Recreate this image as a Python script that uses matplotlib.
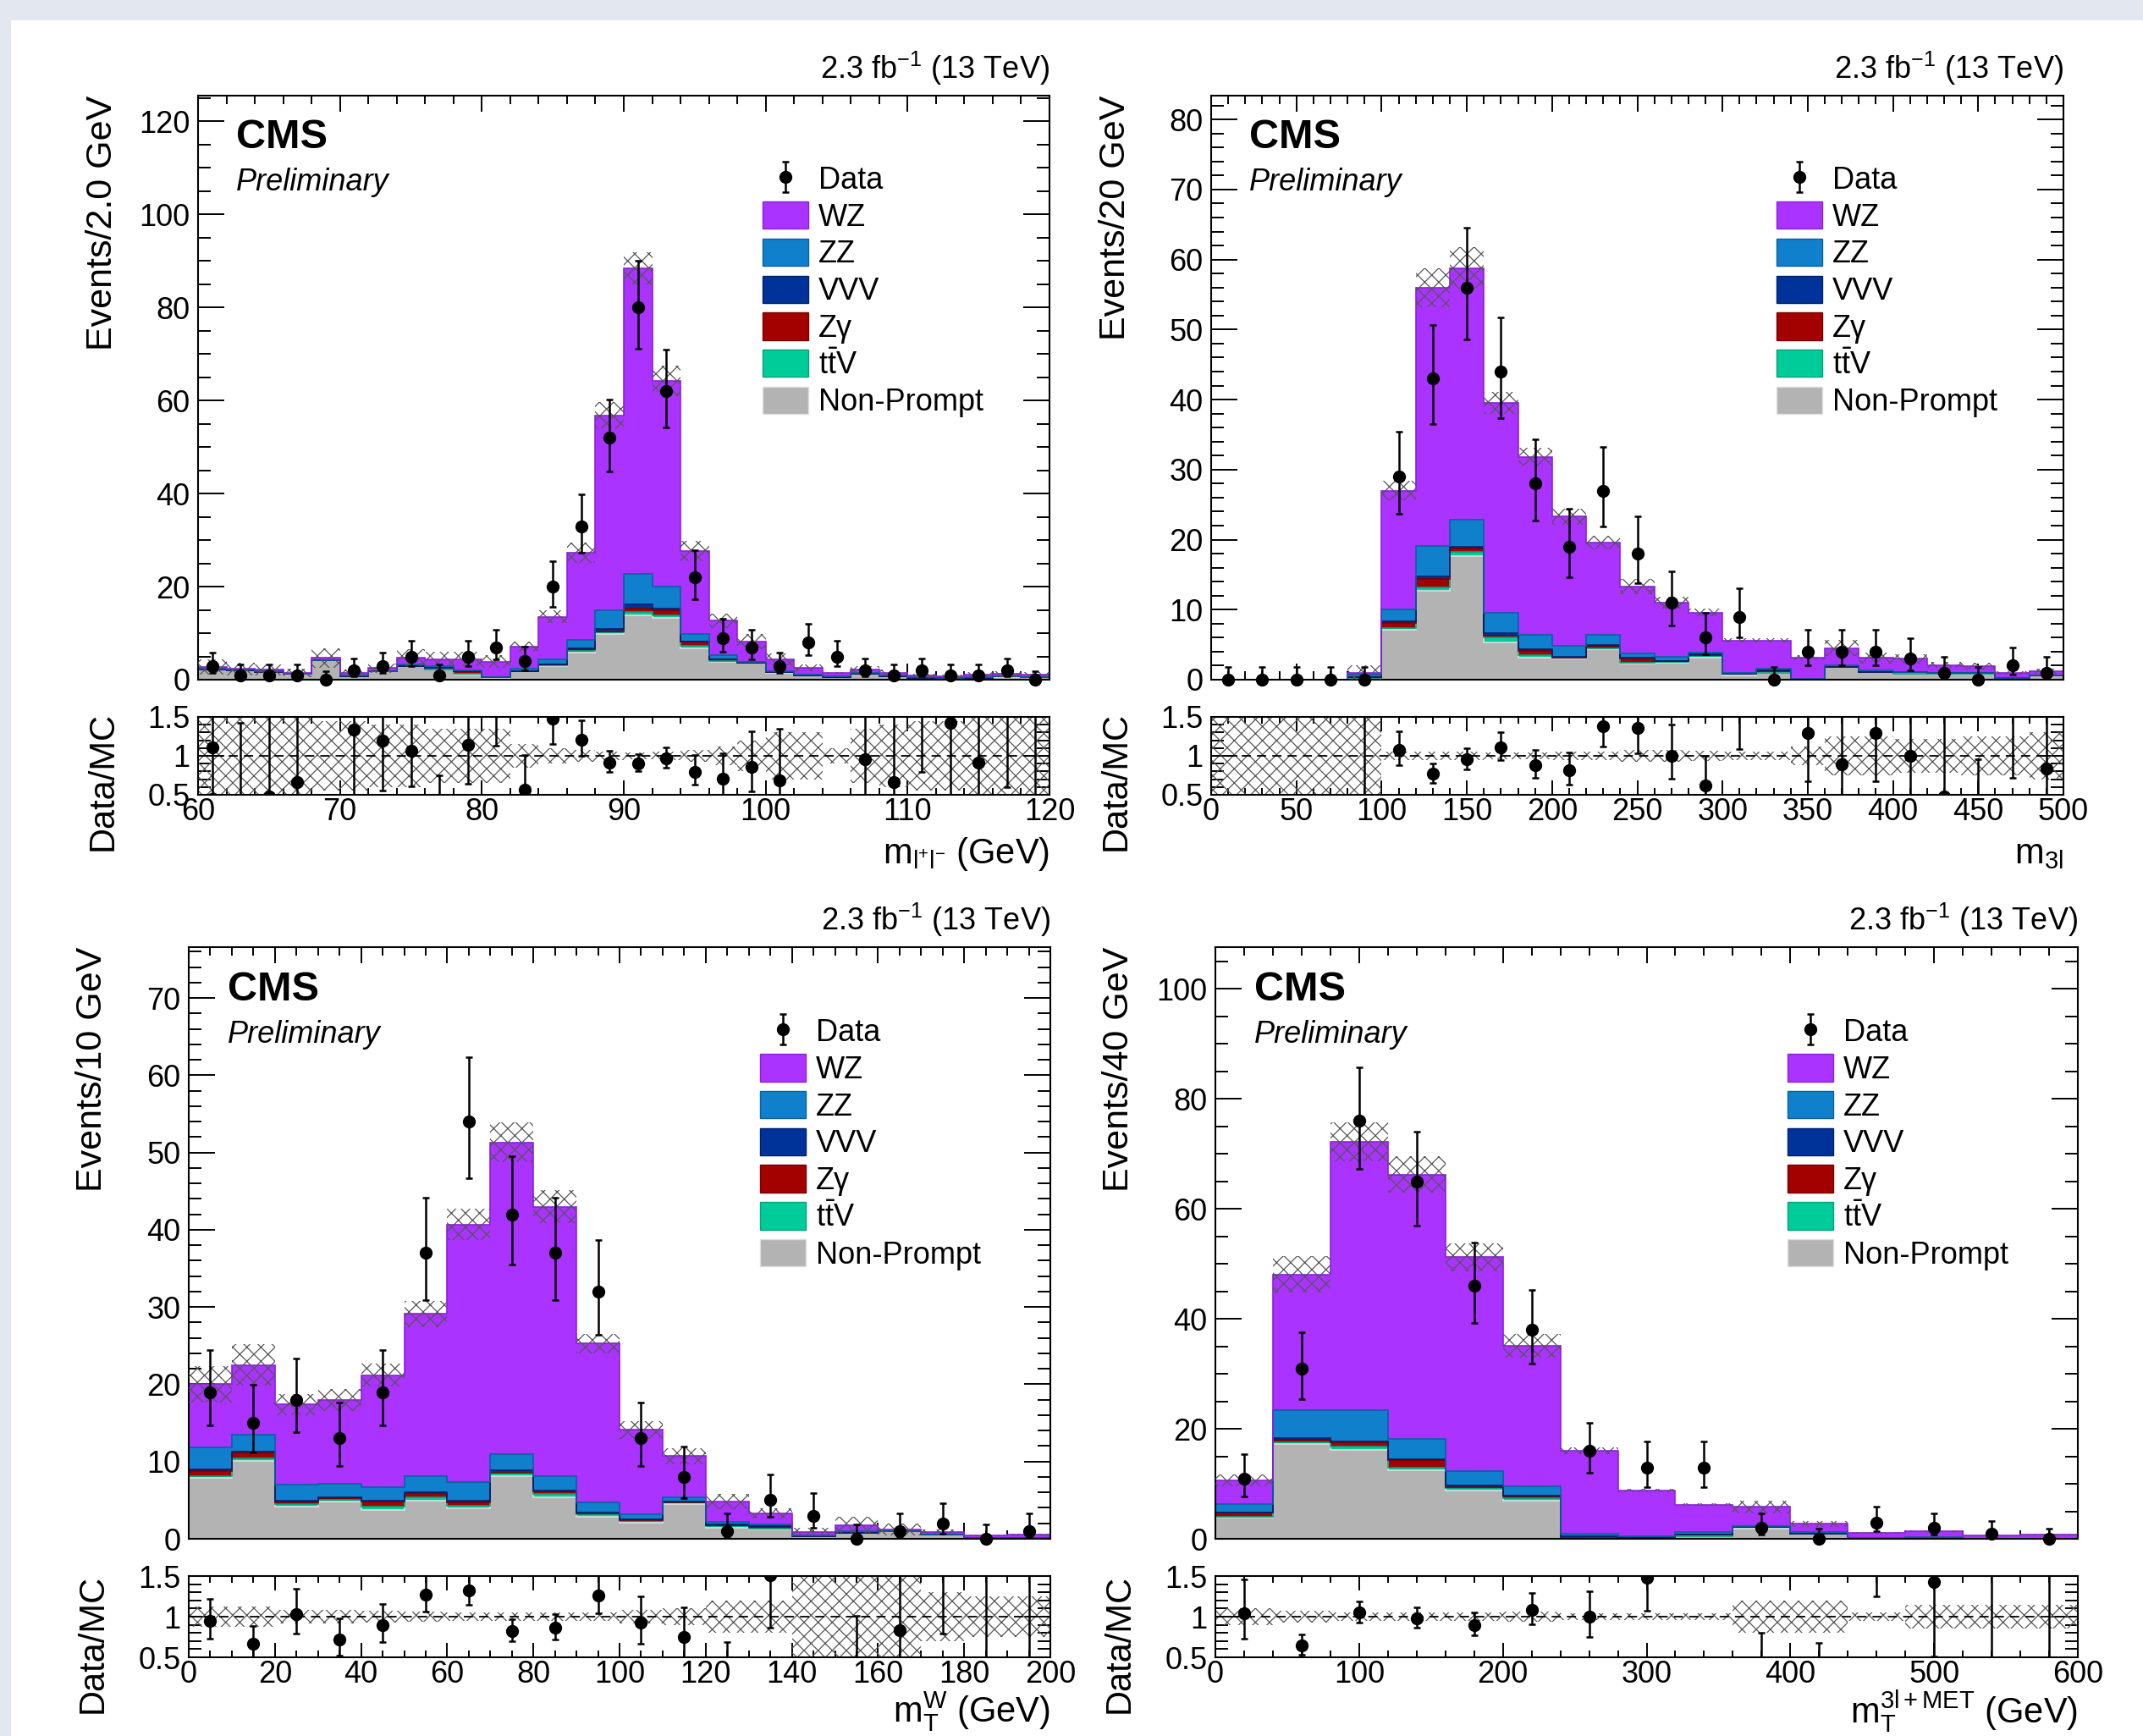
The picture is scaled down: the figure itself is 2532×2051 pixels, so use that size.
import numpy as np
import matplotlib

matplotlib.use("Agg")
import matplotlib.pyplot as plt
from matplotlib.patches import Patch, Rectangle
from matplotlib.ticker import MultipleLocator, FixedLocator


# Stack components per bin.
# Order inside each panel: Non-Prompt, ttV, Zgamma, VVV, ZZ, WZ (bottom -> top).

# m_ll, 60-120 GeV, 2 GeV bins
MLL_NONPROMPT = [2.2, 2.0, 1.7, 1.2, 4.1, 0.7, 1.8, 2.9, 2.1, 1.1, 0.3, 1.8, 2.9, 5.9, 9.8,
                 13.9, 13.3, 6.8, 3.9, 3.6, 1.5, 0.9, 0.6, 1.2, 0.7, 0.4, 0.3, 0.4, 0.5, 0.5]
MLL_TTV = [0, 0, 0, 0, 0, 0.05, 0, 0.1, 0.05, 0.1, 0.2, 0.1, 0.2, 0.3, 0.4,
           0.6, 0.6, 0.5, 0.1, 0.1, 0.1, 0, 0, 0, 0, 0, 0, 0, 0.2, 0]
MLL_ZGAMMA = [0, 0, 0, 0, 0, 0, 0, 0, 0.35, 0.6, 0, 0, 0.1, 0.4, 0.2,
              0.8, 1.1, 0.8, 0.3, 0, 0, 0, 0, 0, 0, 0, 0, 0, 0, 0]
MLL_VVV = [0, 0, 0, 0, 0, 0, 0, 0, 0, 0, 0, 0, 0, 0.1, 0.6,
           0.8, 0.3, 0.1, 0.1, 0, 0, 0, 0, 0, 0, 0, 0, 0, 0, 0]
MLL_ZZ = [0.1, 0.1, 0.1, 0.1, 0.1, 0.15, 0.1, 0.2, 0.4, 0.2, 0.1, 0.5, 1.2, 1.8, 4.0,
          6.7, 4.7, 1.7, 0.8, 0.2, 0.2, 0.2, 0.2, 0.3, 0.2, 0.1, 0.1, 0.1, 0.1, 0.1]
MLL_WZ = [0.4, 0.2, 0.3, 0.2, 0.5, 0.6, 0.6, 1.5, 1.5, 2.4, 3.3, 4.7, 9.1, 18.8, 41.8,
          65.6, 44.2, 17.7, 7.5, 4.3, 2.6, 1.4, 0.7, 0.6, 0.6, 0.4, 0.3, 0.6, 0.4, 0.5]
MLL_DATA = [3, 1, 1, 1, 0, 2, 3, 5, 1, 5, 7, 4, 20, 33, 52,
            80, 62, 22, 9, 7, 3, 8, 5, 2, 1, 2, 1, 1, 2, 0]
MLL_UNC = [0.6, 0.6, 0.6, 0.6, 0.45, 0.45, 0.4, 0.4, 0.35, 0.35, 0.35, 0.15, 0.1, 0.08, 0.05,
           0.04, 0.05, 0.08, 0.12, 0.2, 0.3, 0.3, 0.1, 0.35, 0.4, 0.45, 0.45, 0.5, 0.5, 0.5]

# m_3l, 0-500 GeV, 20 GeV bins
M3L_NONPROMPT = [0, 0, 0, 0, 0.2, 7.1, 12.7, 17.7, 5.3, 3.1, 3.0, 4.3, 2.3, 2.4, 3.2,
                 0.6, 1.0, 0, 1.8, 1.1, 0.8, 0.9, 0.9, 0.1, 0.6]
M3L_TTV = [0, 0, 0, 0, 0, 0.3, 0.5, 0.5, 0.7, 0.4, 0.2, 0.2, 0.1, 0.1, 0.2,
           0.2, 0, 0, 0, 0, 0, 0, 0, 0.1, 0]
M3L_ZGAMMA = [0, 0, 0, 0, 0.2, 0.7, 1.2, 0.5, 0.3, 0.6, 0, 0.2, 0.6, 0.1, 0.1,
              0, 0.3, 0, 0, 0, 0.3, 0.1, 0.1, 0, 0]
M3L_VVV = [0, 0, 0, 0, 0, 0.2, 0.3, 0.3, 0.3, 0.2, 0.1, 0.2, 0.1, 0.1, 0.1,
           0, 0, 0, 0, 0, 0, 0, 0, 0, 0]
M3L_ZZ = [0, 0, 0, 0, 0.3, 1.7, 4.4, 3.8, 3.0, 2.1, 1.5, 1.5, 0.7, 0.6, 0.3,
          0.2, 0.3, 0.1, 0.3, 0.2, 0, 0, 0, 0, 0]
M3L_WZ = [0, 0, 0, 0, 0.3, 17.0, 36.9, 36.0, 29.9, 25.4, 18.5, 13.2, 9.5, 7.7, 5.7,
          4.6, 4.0, 3.0, 2.4, 1.8, 1.9, 1.1, 0.9, 0.8, 0.6]
M3L_DATA = [0, 0, 0, 0, 0, 29, 43, 56, 44, 28, 19, 27, 18, 11, 6,
            9, 0, 4, 4, 4, 3, 1, 0, 2, 1]
M3L_UNC = [1, 1, 1, 1, 1, 0.05, 0.05, 0.05, 0.04, 0.04, 0.05, 0.05, 0.08, 0.08, 0.06,
           0.05, 0.05, 0.12, 0.25, 0.25, 0.22, 0.22, 0.25, 0.25, 0.3]

# m_T^W, 0-200 GeV, 10 GeV bins
MTW_NONPROMPT = [7.9, 10.1, 4.2, 4.8, 3.7, 4.9, 3.9, 8.1, 5.4, 2.8,
                 2.1, 4.5, 1.4, 1.2, 0.3, 0.8, 1.0, 0.5, 0.1, 0.1]
MTW_TTV = [0.2, 0.3, 0.3, 0.2, 0.5, 0.5, 0.4, 0.4, 0.4, 0.4,
           0.2, 0.2, 0.2, 0.1, 0, 0, 0, 0, 0, 0]
MTW_ZGAMMA = [0.7, 0.8, 0.2, 0.3, 0.6, 0.5, 0.4, 0.1, 0.3, 0.1,
              0.1, 0, 0.2, 0.2, 0, 0, 0, 0, 0, 0]
MTW_VVV = [0.2, 0.1, 0.2, 0.1, 0.1, 0.1, 0.2, 0.3, 0.1, 0.1,
           0.1, 0.1, 0.1, 0.1, 0, 0, 0, 0, 0, 0]
MTW_ZZ = [2.8, 2.2, 2.1, 1.7, 1.8, 2.1, 2.4, 2.1, 1.9, 1.3,
          0.7, 0.6, 0.3, 0.3, 0.1, 0.2, 0, 0, 0, 0]
MTW_WZ = [8.2, 9.0, 10.4, 10.9, 14.5, 21.0, 33.4, 40.3, 34.9, 20.6,
          10.9, 5.3, 2.6, 1.4, 0.5, 0.8, 0.2, 0.4, 0.3, 0.4]
MTW_DATA = [19, 15, 18, 13, 19, 37, 54, 42, 37, 32,
            13, 8, 1, 5, 3, 0, 1, 2, 0, 1]
MTW_UNC = [0.12, 0.12, 0.08, 0.08, 0.07, 0.06, 0.05, 0.05, 0.05, 0.05,
           0.08, 0.1, 0.2, 0.2, 0.6, 0.6, 0.6, 0.3, 0.25, 0.25]

# m_T^{3l+MET}, 0-600 GeV, 40 GeV bins
MT3L_NONPROMPT = [3.9, 17.2, 16.2, 12.5, 8.7, 6.9, 0.1, 0.1, 0.5, 1.8, 1.0, 0, 0.1, 0, 0]
MT3L_TTV = [0.1, 0.3, 0.6, 0.4, 0.6, 0.5, 0.1, 0, 0, 0.4, 0, 0, 0, 0, 0]
MT3L_ZGAMMA = [0.7, 0.5, 0.7, 1.4, 0.1, 0.3, 0, 0, 0.2, 0, 0, 0, 0, 0, 0]
MT3L_VVV = [0.1, 0.3, 0.2, 0.2, 0.3, 0.2, 0.2, 0.2, 0, 0, 0, 0, 0, 0, 0]
MT3L_ZZ = [1.5, 5.1, 5.7, 3.7, 2.6, 1.6, 0.6, 0.2, 0.6, 0.1, 0.3, 0.1, 0.2, 0, 0]
MT3L_WZ = [4.3, 24.7, 48.8, 48.0, 38.9, 25.6, 15.0, 8.3, 4.9, 3.5, 1.4, 1.0, 1.1, 0.6, 0.8]
MT3L_DATA = [11, 31, 76, 65, 46, 38, 16, 13, 13, 2, 0, 3, 2, 1, 0]
MT3L_UNC = [0.1, 0.07, 0.05, 0.05, 0.05, 0.06, 0.04, 0.04, 0.04, 0.2, 0.2, 0.05, 0.15, 0.15, 0.15]

PROCESS_NAMES = ["Non-Prompt", r"t$\mathregular{\bar{t}}$V", "Zγ", "VVV", "ZZ", "WZ"]
FILL_COLORS = ["#b3b3b3", "#00cc99", "#a30000", "#003399", "#1080cc", "#aa33ff"]
LINE_COLORS = ["#dedede", "#00a37a", "#7a0000", "#002070", "#0a5fa0", "#8c1fdd"]
HATCH_COLOR = "#555555"

W, H = 2532, 2051


def px_rect(x0, y0, x1, y1):
    return [x0 / W, 1 - y1 / H, (x1 - x0) / W, (y1 - y0) / H]


def poisson_errors(n):
    # Approximate Garwood intervals (what ROOT draws for data points).
    n = np.asarray(n, dtype=float)
    up = (n + 1) * (1 - 1 / (9 * (n + 1)) + 1 / (3 * np.sqrt(n + 1))) ** 3 - n
    with np.errstate(divide="ignore", invalid="ignore"):
        low_lim = n * (1 - 1 / (9 * n) - 1 / (3 * np.sqrt(n))) ** 3
    lo = np.where(n > 0, n - np.nan_to_num(low_lim), 0.0)
    return lo, up


def style_axis(ax, xmaj, xmin, ymaj, ymin, xlen, ylen):
    ax.xaxis.set_major_locator(MultipleLocator(xmaj))
    ax.xaxis.set_minor_locator(MultipleLocator(xmin))
    ax.tick_params(axis="both", which="both", direction="in", top=True, right=True,
                   width=1.4, labelsize=26)
    ax.tick_params(axis="x", which="major", length=xlen)
    ax.tick_params(axis="x", which="minor", length=xlen / 2)
    ax.tick_params(axis="y", which="major", length=ylen, pad=7)
    ax.tick_params(axis="y", which="minor", length=ylen / 2)
    ax.tick_params(axis="x", pad=2)
    if ymaj is not None:
        ax.yaxis.set_major_locator(MultipleLocator(ymaj))
        ax.yaxis.set_minor_locator(MultipleLocator(ymin))
    for spine in ax.spines.values():
        spine.set_linewidth(1.5)


def draw_panel(fig, main_px, ratio_px, xrange, comps, data, unc, ymax,
               xticks, yticks, ylabel, xlabel, xlabel_y):
    lo_x, hi_x, nbins = xrange
    edges = np.linspace(lo_x, hi_x, nbins + 1)
    centers = 0.5 * (edges[1:] + edges[:-1])
    data = np.asarray(data, dtype=float)
    unc = np.asarray(unc, dtype=float)

    ax = fig.add_axes(px_rect(*main_px))
    rax = fig.add_axes(px_rect(*ratio_px))

    # Stacked backgrounds
    bottom = np.zeros(nbins)
    for vals, fc, lc in zip(comps, FILL_COLORS, LINE_COLORS):
        top = bottom + np.asarray(vals, dtype=float)
        ax.stairs(top, edges, baseline=bottom, fill=True, color=fc, lw=0, zorder=2)
        ax.stairs(top, edges, baseline=None, color=lc, lw=1.2, zorder=2.5)
        bottom = top
    total = bottom

    # MC uncertainty band
    ax.stairs(total * (1 + unc), edges, baseline=total * (1 - unc), fill=True,
              facecolor="none", edgecolor=HATCH_COLOR, hatch="xx", lw=0, zorder=3)

    lo_err, up_err = poisson_errors(data)
    data_handle = ax.errorbar(centers, data, yerr=[lo_err, up_err], fmt="o", color="black",
                              ms=10, elinewidth=1.8, capsize=3, capthick=1.8,
                              zorder=5, clip_on=False)

    ax.set_xlim(lo_x, hi_x)
    ax.set_ylim(0, ymax)
    style_axis(ax, xticks[0], xticks[1], yticks[0], yticks[1], xlen=14, ylen=22)
    ax.tick_params(axis="x", labelbottom=False)
    ax.set_ylabel(ylabel, fontsize=31, loc="top")
    ax.yaxis.set_label_coords(-0.092, 1.0)

    ax.text(0.045, 0.928, "CMS", transform=ax.transAxes, fontsize=35,
            fontweight="bold", va="center", ha="left")
    ax.text(0.045, 0.852, "Preliminary", transform=ax.transAxes, fontsize=26,
            fontstyle="italic", va="center", ha="left")
    ax.text(1.0, 1.015, r"2.3 fb$^{\mathregular{-1}}$ (13 TeV)", transform=ax.transAxes,
            fontsize=26, ha="right", va="bottom")

    handles = [data_handle] + [Patch(facecolor=fc, edgecolor=lc, lw=1)
                               for fc, lc in zip(FILL_COLORS[::-1], LINE_COLORS[::-1])]
    labels = ["Data"] + PROCESS_NAMES[::-1]
    ax.legend(handles, labels, loc="upper left", bbox_to_anchor=(0.663, 0.882),
              frameon=False, fontsize=26, handlelength=1.5, handleheight=1.0,
              handletextpad=0.33, labelspacing=0.2, borderpad=0, borderaxespad=0)

    # Ratio pad
    rax.stairs(1 + unc, edges, baseline=1 - unc, fill=True, facecolor="none",
               edgecolor=HATCH_COLOR, hatch="xx", lw=0, zorder=2)
    rax.axhline(1.0, color="black", lw=1.3, ls=(0, (6, 4)), zorder=3)
    with np.errstate(divide="ignore", invalid="ignore"):
        ratio = np.where(total > 0, data / total, np.nan)
        r_lo = np.where(total > 0, lo_err / total, np.nan)
        r_up = np.where(total > 0, up_err / total, np.nan)
    rax.errorbar(centers, ratio, yerr=[r_lo, r_up], fmt="o", color="black", ms=10,
                 elinewidth=1.8, capsize=3, capthick=1.8, zorder=5)
    rax.set_xlim(lo_x, hi_x)
    rax.set_ylim(0.5, 1.5)
    style_axis(rax, xticks[0], xticks[1], None, None, xlen=12, ylen=22)
    rax.yaxis.set_major_locator(FixedLocator([0.5, 1.0, 1.5]))
    rax.yaxis.set_minor_locator(MultipleLocator(0.1))
    rax.set_yticklabels(["0.5", "1", "1.5"])
    rax.set_ylabel("Data/MC", fontsize=30)
    rax.yaxis.set_label_coords(-0.092, 0.17)
    rax.set_xlabel(xlabel, fontsize=30, loc="right", va="baseline")
    rax.xaxis.set_label_coords(1.0, xlabel_y)


def main() -> None:
    plt.rcParams["font.family"] = ["Liberation Sans", "DejaVu Sans"]
    plt.rcParams["mathtext.fontset"] = "custom"
    plt.rcParams["mathtext.rm"] = "Liberation Sans"
    plt.rcParams["mathtext.it"] = "Liberation Sans:italic"
    plt.rcParams["mathtext.bf"] = "Liberation Sans:bold"
    plt.rcParams["hatch.linewidth"] = 0.9

    fig = plt.figure(figsize=(W / 100, H / 100), dpi=100)
    fig.patch.set_facecolor("white")
    # light page border seen at the top and left edge of the screenshot
    fig.add_artist(Rectangle((0, 1 - 24 / H), 1, 24 / H, transform=fig.transFigure,
                             facecolor="#e3e7ef", edgecolor="none", zorder=-10))
    fig.add_artist(Rectangle((0, 0), 13 / W, 1, transform=fig.transFigure,
                             facecolor="#e3e7ef", edgecolor="none", zorder=-10))

    draw_panel(fig, (234, 113, 1240, 803), (234, 847, 1240, 939), (60, 120, 30),
               [MLL_NONPROMPT, MLL_TTV, MLL_ZGAMMA, MLL_VVV, MLL_ZZ, MLL_WZ],
               MLL_DATA, MLL_UNC, 125.5, (10, 2), (20, 5),
               "Events/2.0 GeV", r"m$_{\mathregular{l^{+}l^{-}}}$ (GeV)", -0.88)

    draw_panel(fig, (1431, 113, 2438, 803), (1431, 847, 2438, 939), (0, 500, 25),
               [M3L_NONPROMPT, M3L_TTV, M3L_ZGAMMA, M3L_VVV, M3L_ZZ, M3L_WZ],
               M3L_DATA, M3L_UNC, 83.4, (50, 10), (10, 2),
               "Events/20 GeV", r"m$_{\mathregular{3l}}$", -0.88)

    draw_panel(fig, (223, 1119, 1241, 1818), (223, 1862, 1241, 1958), (0, 200, 20),
               [MTW_NONPROMPT, MTW_TTV, MTW_ZGAMMA, MTW_VVV, MTW_ZZ, MTW_WZ],
               MTW_DATA, MTW_UNC, 76.6, (20, 5), (10, 2),
               "Events/10 GeV", r"m$_{\mathregular{T}}^{\mathregular{W}}$ (GeV)", -0.8)

    draw_panel(fig, (1436, 1119, 2455, 1818), (1436, 1862, 2455, 1958), (0, 600, 15),
               [MT3L_NONPROMPT, MT3L_TTV, MT3L_ZGAMMA, MT3L_VVV, MT3L_ZZ, MT3L_WZ],
               MT3L_DATA, MT3L_UNC, 107.6, (100, 20), (20, 5),
               "Events/40 GeV", r"m$_{\mathregular{T}}^{\mathregular{3l+MET}}$ (GeV)", -0.8)

    fig.savefig("out.png", dpi=100)
    plt.close(fig)


if __name__ == "__main__":
    main()
